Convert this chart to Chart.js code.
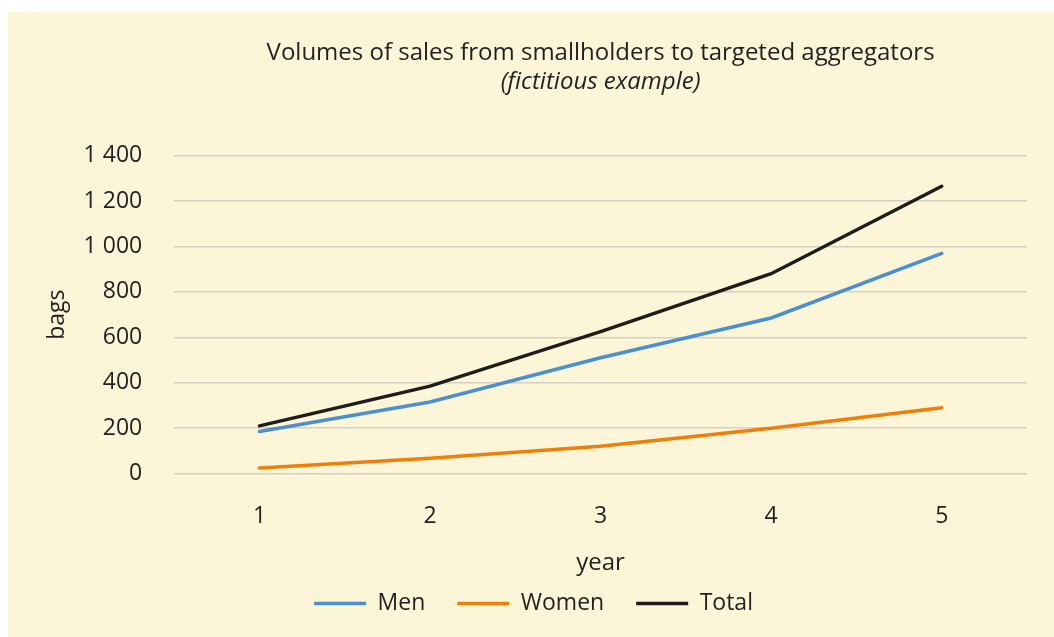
<!DOCTYPE html>
<html>
<head>
<meta charset="utf-8">
<script src="https://cdn.jsdelivr.net/npm/chart.js@4/dist/chart.umd.min.js"></script>
<style>
  html, body { margin: 0; padding: 0; background: #ffffff; }
  #wrap { position: absolute; left: 8px; top: 12px; width: 1046px; height: 625px; background: #fcf5d8; }
</style>
</head>
<body>
<div id="wrap"><canvas id="line"></canvas></div>
<script>
const years = ["1", "2", "3", "4", "5"];
const men = [185, 315, 510, 685, 970];
const women = [25, 68, 120, 200, 290];
const total = [210, 385, 625, 880, 1265];

const ctx = document.getElementById("line");

Chart.defaults.font.family = "'Open Sans', sans-serif";
Chart.defaults.font.size = 23;
Chart.defaults.color = "#231f20";

new Chart(ctx, {
  type: "line",
  data: {
    labels: years,
    datasets: [
      { label: "Men", data: men, borderColor: "#4a8fd4", backgroundColor: "#4a8fd4", borderWidth: 3.5 },
      { label: "Women", data: women, borderColor: "#f07f09", backgroundColor: "#f07f09", borderWidth: 3.5 },
      { label: "Total", data: total, borderColor: "#1d1d1b", backgroundColor: "#1d1d1b", borderWidth: 3.5 },
    ],
  },
  options: {
    responsive: true,
    maintainAspectRatio: false,
    animation: false,
    elements: {
      line: { tension: 0, borderCapStyle: "round" },
      point: { radius: 0 },
    },
    layout: { padding: { top: 27, right: 27, left: 32, bottom: 12 } },
    scales: {
      y: {
        min: 0,
        max: 1400,
        ticks: {
          stepSize: 200,
          padding: 32,
          callback: (v) => String(v).replace(/\B(?=(\d{3})+(?!\d))/g, " "),
        },
        grid: { color: "#d3d0c6", lineWidth: 1.5, drawTicks: false },
        border: { display: false },
        title: { display: true, text: "bags", font: { size: 23 }, padding: { top: 4, bottom: -20 } },
      },
      x: {
        offset: true,
        ticks: { padding: 29 },
        grid: { display: false, drawTicks: false },
        border: { display: false },
        title: { display: true, text: "year", font: { size: 24 }, padding: { top: -10, bottom: -18 } },
      },
    },
    plugins: {
      title: {
        display: true,
        fullSize: false,
        text: "Volumes of sales from smallholders to targeted aggregators",
        font: { size: 24, weight: "normal" },
        padding: { top: 0, bottom: 0 },
      },
      subtitle: {
        display: true,
        fullSize: false,
        text: "(fictitious example)",
        font: { size: 24, style: "italic" },
        color: "#231f20",
        padding: { top: 0, bottom: 59 },
      },
      legend: {
        position: "bottom",
        labels: {
          usePointStyle: true,
          pointStyle: "line",
          pointStyleWidth: 52,
          boxHeight: 8,
          padding: 32,
        },
      },
      tooltip: { enabled: false },
    },
  },
});
</script>
</body>
</html>
